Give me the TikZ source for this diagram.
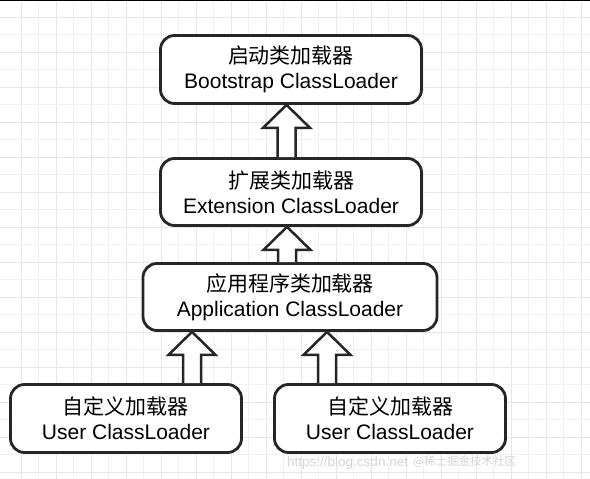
\documentclass[tikz,border=0pt]{standalone}
\usepackage{fontspec}
\setmainfont{Liberation Sans}
\newfontfamily\cjk{Noto Sans CJK SC}
\usetikzlibrary{calc}
\definecolor{gridA}{HTML}{E6E6EE}
\definecolor{gridB}{HTML}{F0F0F5}
\definecolor{edge}{HTML}{262626}
\definecolor{wm}{HTML}{D4D4D8}
\begin{document}
\begin{tikzpicture}[x=1pt,y=-1pt,
  box/.style={draw=edge, line width=2.8pt, rounded corners=14pt, fill=white,
    align=center, inner sep=0pt, font=\fontsize{21}{25}\selectfont},
  harrow/.style={draw=edge, line width=2.5pt, fill=white, line join=miter},
  gmaj/.style={draw=gridA, line width=0.9pt},
  gmin/.style={draw=gridB, line width=0.8pt},
  wmark/.style={text=wm, inner sep=0pt, anchor=base west}]
\useasboundingbox (0,0) rectangle (590,479);
\fill[white] (0,0) rectangle (590,479);
% grid
\foreach \i in {0,...,33}{
  \pgfmathsetmacro{\gx}{21+17.5*\i}
  \ifodd\i \draw[gmin] (\gx,0) -- (\gx,479); \else \draw[gmaj] (\gx,0) -- (\gx,479); \fi
}
\foreach \i in {0,...,26}{
  \pgfmathsetmacro{\gy}{17+17.5*\i}
  \ifodd\i \draw[gmin] (0,\gy) -- (590,\gy); \else \draw[gmaj] (0,\gy) -- (590,\gy); \fi
}
\draw[black, line width=1.2pt] (0,0.6) -- (590,0.6);
% boxes
\node[box, minimum width=261pt, minimum height=68pt] (b1) at (291,69.5)
  {{\cjk 启动类加载器}\\Bootstrap ClassLoader};
\node[box, minimum width=261pt, minimum height=67pt] (b2) at (291,192)
  {{\cjk 扩展类加载器}\\Extension ClassLoader};
\node[box, minimum width=294pt, minimum height=67pt] (b3) at (290,297)
  {{\cjk 应用程序类加载器}\\Application ClassLoader};
\node[box, minimum width=231pt, minimum height=68pt] (b4) at (126,418.5)
  {{\cjk 自定义加载器}\\User ClassLoader};
\node[box, minimum width=231pt, minimum height=68pt] (b5) at (390,418.5)
  {{\cjk 自定义加载器}\\User ClassLoader};
% watermark
\node[wmark, font=\fontsize{13.5}{15}\selectfont] (w1) at (287,466) {https://blog.csdn.net};
\node[wmark, font=\fontsize{11.5}{13}\selectfont] (w2) at (413,465) {\cjk @稀土掘金技术社区};
% connector base points
\coordinate (a1s) at ($(b2.north)+(-4.5,0)$);
\coordinate (a1t) at (a1s |- b1.south);
\coordinate (a2s) at ($(b3.north)+(-3,0)$);
\coordinate (a2t) at (a2s |- b2.south);
\coordinate (a3s) at ($(b4.north)+(66,0)$);
\coordinate (a3t) at (a3s |- b3.south);
\coordinate (a4s) at ($(b5.north)+(-63,0)$);
\coordinate (a4t) at (a4s |- b3.south);
\newcommand\hollowup[2]{%
  \draw[harrow] let \p1=(#1), \p2=(#2) in
    (\x1-9pt,\y1) -- (\x1-9pt,\y2-23pt) -- (\x1-23.5pt,\y2-23pt) -- (\x2,\y2)
    -- (\x1+23.5pt,\y2-23pt) -- (\x1+9pt,\y2-23pt) -- (\x1+9pt,\y1);}
\hollowup{a1s}{a1t}
\hollowup{a2s}{a2t}
\hollowup{a3s}{a3t}
\hollowup{a4s}{a4t}
\end{tikzpicture}
\end{document}
